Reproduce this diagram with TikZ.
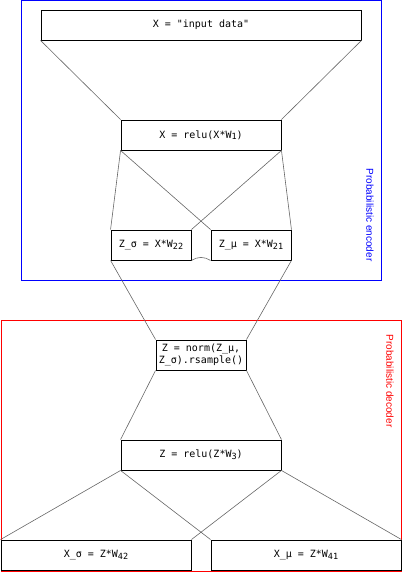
\documentclass[tikz,border=0pt]{standalone}
\usepackage{fontspec}
\setmainfont{Liberation Sans}
\newfontfamily\monof{DejaVu Sans Mono}
\newcommand{\lowsub}[1]{\raisebox{-0.3ex}{\fontsize{8.5}{10}\selectfont #1}}
\begin{document}
\begin{tikzpicture}[x=1pt,y=-1pt,
  box/.style={draw=black,line width=0.9pt,rectangle,inner sep=0pt,font=\monof\fontsize{10}{12}\selectfont,align=center},
  conn/.style={draw=black!60,line width=0.6pt},
  grp/.style={line width=0.9pt},
  lbl/.style={font=\fontsize{10}{12}\selectfont,rotate=-90}]
\useasboundingbox (0,0) rectangle (402,572);
% group frames
\draw[grp,draw=blue] (21,0.5) rectangle (381,280);
\draw[grp,draw=red] (1,320.5) rectangle (401,571);
\node[lbl,text=blue] (enc) at (370,215) {Probabilistic encoder};
\node[lbl,text=red] (dec) at (390,381) {Probabilistic decoder};
% boxes
\node[box,minimum width=320pt,minimum height=30pt] (in) at (201,25) {X = "input data"};
\node[box,minimum width=160pt,minimum height=30pt] (r1) at (201,135) {X = relu(X*W\lowsub{1})};
\node[box,minimum width=80pt,minimum height=30pt] (zs) at (151,245) {Z\_σ = X*W\lowsub{22}};
\node[box,minimum width=80pt,minimum height=30pt] (zm) at (251,245) {Z\_μ = X*W\lowsub{21}};
\node[box,minimum width=90pt,minimum height=30pt] (z) at (201,355) {Z = norm(Z\_μ,\\Z\_σ).rsample()};
\node[box,minimum width=160pt,minimum height=30pt] (r3) at (201,455) {Z = relu(Z*W\lowsub{3})};
\node[box,minimum width=190pt,minimum height=30pt] (xs) at (96,555) {X\_σ = Z*W\lowsub{42}};
\node[box,minimum width=190pt,minimum height=30pt] (xm) at (306,555) {X\_μ = Z*W\lowsub{41}};
% connectors
\draw[conn] (in.south west) -- (r1.north west);
\draw[conn] (in.south east) -- (r1.north east);
\draw[conn] (r1.south west) -- (zs.north west);
\draw[conn] (r1.south west) -- (zm.north west);
\draw[conn] (r1.south east) -- (zs.north east);
\draw[conn] (r1.south east) -- (zm.north east);
\draw[conn] (zs.south east) .. controls ([xshift=6pt,yshift=4pt]zs.south east) and ([xshift=-6pt,yshift=4pt]zm.south west) .. (zm.south west);
\draw[conn] (zs.south west) -- (z.north west);
\draw[conn] (zm.south east) -- (z.north east);
\draw[conn] (z.south west) -- (r3.north west);
\draw[conn] (z.south east) -- (r3.north east);
\draw[conn] (r3.south west) -- (xs.north west);
\draw[conn] (r3.south west) -- (xm.north west);
\draw[conn] (r3.south east) -- (xs.north east);
\draw[conn] (r3.south east) -- (xm.north east);
\end{tikzpicture}
\end{document}
